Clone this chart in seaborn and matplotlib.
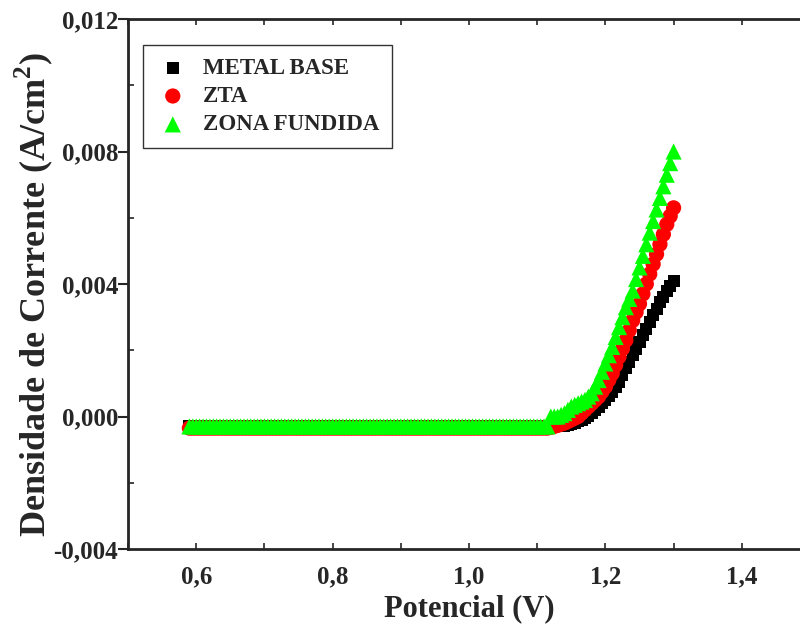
import numpy as np
import matplotlib
matplotlib.use("Agg")
import matplotlib.pyplot as plt
from matplotlib.ticker import MultipleLocator, FuncFormatter
import seaborn as sns

# Curvas de polarização - dados lidos do gráfico
# trecho plano (passivo): potencial de 0,59 a 1,115 V, passo de 5 mV
potencial_plano = np.round(np.arange(0.590, 1.1151, 0.005), 3)
base_metal = -0.0003
base_zta = -0.00035
base_zf = -0.0003

# trecho de subida: 1,120 a 1,300 V
potencial_subida = [1.120, 1.125, 1.130, 1.135, 1.140, 1.145, 1.150, 1.155, 1.160,
                    1.165, 1.170, 1.175, 1.180, 1.185, 1.190, 1.195, 1.200, 1.205,
                    1.210, 1.215, 1.220, 1.225, 1.230, 1.235, 1.240, 1.245, 1.250,
                    1.255, 1.260, 1.265, 1.270, 1.275, 1.280, 1.285, 1.290, 1.295, 1.300]

metal_base = [-0.0003, -0.0003, -0.0003, -0.0003, -0.00028, -0.00025, -0.00022, -0.0002, -0.00015,
              -0.0001, -0.00005, 0.00002, 0.0001, 0.0002, 0.0003, 0.0004, 0.0005, 0.00062,
              0.00075, 0.0009, 0.00105, 0.00125, 0.00145, 0.00165, 0.00185, 0.00205, 0.00225,
              0.00245, 0.00265, 0.00285, 0.00305, 0.00325, 0.00345, 0.0036, 0.00378, 0.00395, 0.0041]

zta = [-0.00033, -0.0003, -0.00027, -0.00023, -0.0002, -0.00015, -0.0001, -0.00005, 0.0,
       0.0001, 0.0002, 0.0003, 0.0004, 0.0005, 0.0006, 0.00075, 0.0009, 0.0011,
       0.0013, 0.00155, 0.0018, 0.00205, 0.0023, 0.0026, 0.0029, 0.00315, 0.0034,
       0.0037, 0.0040, 0.0043, 0.0046, 0.0049, 0.0052, 0.0055, 0.0058, 0.00605, 0.0063]

zona_fundida = [0.0, 0.0, 0.0, 0.00005, 0.0001, 0.0002, 0.0003, 0.00035, 0.0004,
                0.00045, 0.0005, 0.0006, 0.0007, 0.0009, 0.0011, 0.00135, 0.0016, 0.00185,
                0.0021, 0.0024, 0.0027, 0.0030, 0.0033, 0.00355, 0.0038, 0.00415, 0.0045,
                0.00485, 0.0052, 0.00555, 0.0059, 0.00625, 0.0066, 0.00695, 0.0073, 0.00765, 0.0080]

x_all = np.concatenate([potencial_plano, potencial_subida])
n_plano = len(potencial_plano)
y_metal = [base_metal] * n_plano + metal_base
y_zta = [base_zta] * n_plano + zta
y_zf = [base_zf] * n_plano + zona_fundida

sns.set_style("ticks")
plt.rcParams['font.family'] = ['Liberation Serif', 'DejaVu Serif']
plt.rcParams['font.weight'] = 'bold'
plt.rcParams['mathtext.fontset'] = 'custom'
plt.rcParams['mathtext.rm'] = 'Liberation Serif:bold'
plt.rcParams['mathtext.bf'] = 'Liberation Serif:bold'

fig = plt.figure(figsize=(8, 6.28), dpi=100)
ax = fig.add_axes([0.16, 0.1258, 0.8525, 0.8439])

sns.scatterplot(x=x_all, y=y_metal, ax=ax, marker='s', color='black', s=75,
                edgecolor='none', label='METAL BASE')
sns.scatterplot(x=x_all, y=y_zta, ax=ax, marker='o', color='red', s=120,
                edgecolor='none', label='ZTA')
sns.scatterplot(x=x_all, y=y_zf, ax=ax, marker='^', color='#00ff00', s=135,
                edgecolor='none', label='ZONA FUNDIDA')

ax.set_xlim(0.5, 1.5)
ax.set_ylim(-0.004, 0.012)
ax.xaxis.set_major_locator(MultipleLocator(0.2))
ax.xaxis.set_minor_locator(MultipleLocator(0.1))
ax.yaxis.set_major_locator(MultipleLocator(0.004))
ax.yaxis.set_minor_locator(MultipleLocator(0.002))
ax.xaxis.set_major_formatter(FuncFormatter(lambda v, p: f"{v:.1f}".replace('.', ',')))
ax.yaxis.set_major_formatter(FuncFormatter(lambda v, p: f"{v:.3f}".replace('.', ',')))

ax.tick_params(axis='x', which='both', direction='in', top=True, length=4, width=1.2,
               labelsize=18, pad=12)
ax.tick_params(axis='y', which='major', direction='out', length=7, width=1.5,
               labelsize=18, pad=0)
ax.tick_params(axis='y', which='minor', direction='in', length=4, width=1.2)
for lab in ax.get_xticklabels() + ax.get_yticklabels():
    lab.set_fontweight('bold')

for sp in ax.spines.values():
    sp.set_linewidth(2)
    sp.set_visible(True)

ax.set_xlabel("Potencial (V)", fontsize=22, fontweight='bold', labelpad=4)
ax.set_ylabel(r"Densidade de Corrente (A/cm$^\mathbf{2}$)", fontsize=26, fontweight='bold')
ax.yaxis.set_label_coords(-0.107, 0.48)

leg = ax.legend(loc='upper left', bbox_to_anchor=(0.022, 0.951), borderaxespad=0,
                frameon=True, fancybox=False, edgecolor='black', fontsize=16.5,
                labelspacing=0.32, handletextpad=0.55, borderpad=0.55, handlelength=1.5)
leg.get_frame().set_linewidth(1)
for t in leg.get_texts():
    t.set_fontweight('bold')

fig.savefig("out.png", dpi=100)
